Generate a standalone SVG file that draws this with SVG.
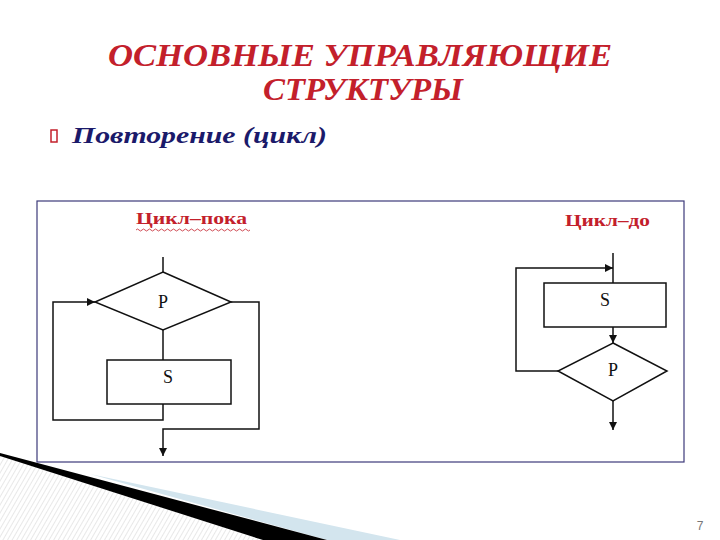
<svg xmlns="http://www.w3.org/2000/svg" width="720" height="540" viewBox="0 0 720 540">
<defs>
<style>
.ttl{font-family:"Liberation Serif",serif;font-weight:bold;font-style:italic;fill:#c3202b;font-size:32px;text-anchor:middle}
.sub{font-family:"Liberation Serif",serif;font-weight:bold;font-style:italic;fill:#1b1a6a;font-size:24px}
.lbl{font-family:"Liberation Serif",serif;font-weight:bold;fill:#c3202b;font-size:17px}
.sym{font-family:"Liberation Serif",serif;fill:#111;font-size:18px;text-anchor:middle}
.shape{fill:#fff;stroke:#111;stroke-width:1.5}
.ln{fill:none;stroke:#111;stroke-width:1.5}
</style>
<marker id="ah" viewBox="0 0 10 10" refX="10" refY="5" markerWidth="8" markerHeight="8" markerUnits="userSpaceOnUse" orient="auto-start-reverse">
<path d="M0,0 L10,5 L0,10 z" fill="#111"/>
</marker>
<pattern id="hatch" width="4" height="4" patternUnits="userSpaceOnUse" patternTransform="rotate(30)">
<rect width="4" height="4" fill="#fff"/>
<line x1="0" y1="0" x2="0" y2="4" stroke="#d6d6d6" stroke-width="1.1"/>
</pattern>
</defs>
<rect width="720" height="540" fill="#fff"/>

<g id="decor">
<polygon points="0,455 263,540 0,540" fill="url(#hatch)"/>
<polygon points="90,474 400,540 327,540" fill="#d3e5ee"/>
<polygon points="0,453 327,540 263,540 0,456" fill="#000"/>
</g>

<g id="title">
<text class="ttl" x="360" y="66" textLength="504" lengthAdjust="spacingAndGlyphs">ОСНОВНЫЕ УПРАВЛЯЮЩИЕ</text>
<text class="ttl" x="363" y="100" textLength="200" lengthAdjust="spacingAndGlyphs">СТРУКТУРЫ</text>
</g>

<g id="bullet">
<rect x="51" y="130" width="6" height="12" fill="none" stroke="#c3202b" stroke-width="1.5"/>
<text class="sub" x="72" y="143" textLength="255" lengthAdjust="spacingAndGlyphs">Повторение (цикл)</text>
</g>

<g id="frame">
<rect x="37" y="201" width="647" height="261" fill="#fff" stroke="#3d3a7a" stroke-width="1.2"/>
</g>

<g id="label-while">
<text class="lbl" x="136" y="224" textLength="111" lengthAdjust="spacingAndGlyphs">Цикл–пока</text>
<path d="M136,230 q1.5,-2 3,0 t3,0 t3,0 t3,0 t3,0 t3,0 t3,0 t3,0 t3,0 t3,0 t3,0 t3,0 t3,0 t3,0 t3,0 t3,0 t3,0 t3,0 t3,0 t3,0 t3,0 t3,0 t3,0 t3,0 t3,0 t3,0 t3,0 t3,0 t3,0 t3,0 t3,0 t3,0 t3,0 t3,0 t3,0 t3,0 t3,0 t3,0" fill="none" stroke="#c3202b" stroke-width="0.8"/>
</g>

<g id="label-until">
<text class="lbl" x="565" y="226" textLength="85" lengthAdjust="spacingAndGlyphs">Цикл–до</text>
</g>

<g id="connectors">
<path class="ln" d="M163,257 V272"/>
<path class="ln" d="M163,330 V360"/>
<path class="ln" d="M163,404 V420 H53 V302 H95" marker-end="url(#ah)"/>
<path class="ln" d="M231,302 H259 V429 H163 V456" marker-end="url(#ah)"/>
<path class="ln" d="M613,253 V283"/>
<path class="ln" d="M558,371 H516 V268 H613" marker-end="url(#ah)"/>
<path class="ln" d="M613,327 V343" marker-end="url(#ah)"/>
<path class="ln" d="M613,401 V430" marker-end="url(#ah)"/>
</g>

<g id="while-P">
<polygon class="shape" points="163,272 231,302 163,330 95,302"/>
<text class="sym" x="163" y="308">P</text>
</g>
<g id="while-S">
<rect class="shape" x="107" y="360" width="124" height="44"/>
<text class="sym" x="168" y="383">S</text>
</g>

<g id="until-S">
<rect class="shape" x="544" y="283" width="122" height="44"/>
<text class="sym" x="605" y="306">S</text>
</g>
<g id="until-P">
<polygon class="shape" points="613,343 667,371 613,401 558,371"/>
<text class="sym" x="613" y="376">P</text>
</g>

<g id="page">
<text x="700" y="530" font-family="Liberation Sans, sans-serif" font-size="12" fill="#777" text-anchor="middle">7</text>
</g>
</svg>
